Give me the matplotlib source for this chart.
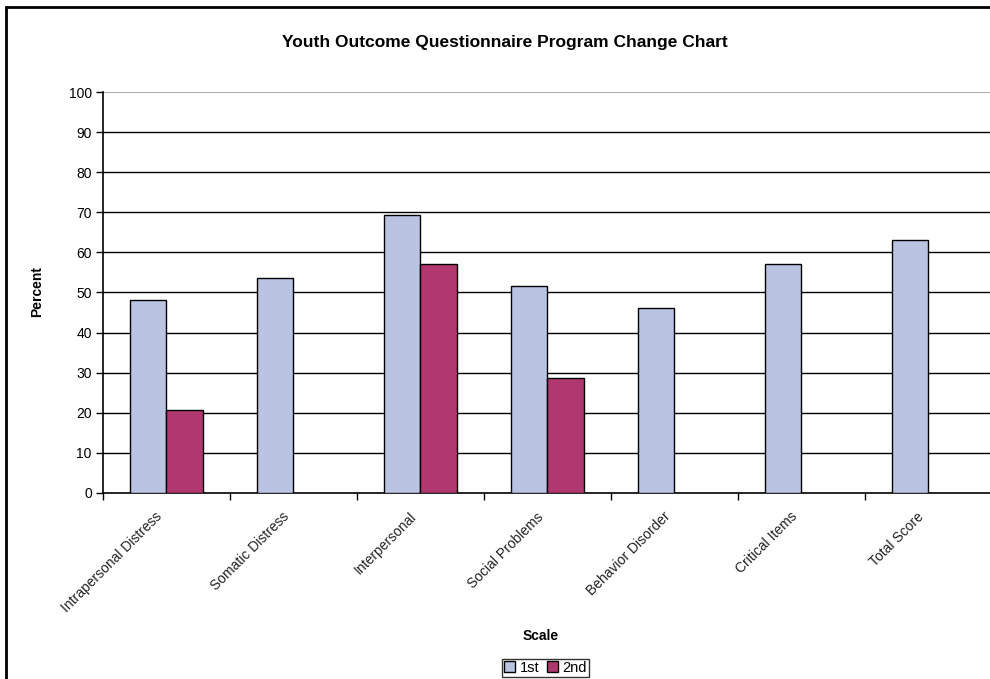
import matplotlib

matplotlib.use("Agg")
import matplotlib.pyplot as plt
import numpy as np
from matplotlib.patches import Rectangle

plt.rcParams["font.family"] = ["Liberation Sans", "DejaVu Sans"]

scales = [
    "Intrapersonal Distress",
    "Somatic Distress",
    "Interpersonal",
    "Social Problems",
    "Behavior Disorder",
    "Critical Items",
    "Total Score",
]
first = [48.1, 53.6, 69.3, 51.7, 46.2, 57.1, 63.0]
second = [20.8, None, 57.1, 28.7, None, None, None]
y_ticks = list(range(0, 101, 10))

fig = plt.figure(figsize=(9.9, 6.79), dpi=100, facecolor="white")
ax = fig.add_axes([0.104, 0.274, 0.898, 0.5905])

x = np.arange(len(scales))
width = 0.29
ax.bar(x - width / 2, first, width, color="#bac3e2", edgecolor="black", lw=1.0,
       label="1st", zorder=3)
x2 = [xi for xi, v in zip(x, second) if v is not None]
v2 = [v for v in second if v is not None]
ax.bar(np.array(x2) + width / 2, v2, width, color="#b0386e", edgecolor="black",
       lw=1.0, label="2nd", zorder=3)

ax.set_xlim(-0.5, len(scales) - 0.5)
ax.set_ylim(0, 100)
ax.set_yticks(y_ticks)
ax.set_yticklabels([str(t) for t in y_ticks], fontsize=10)
for t in y_ticks[1:-1]:
    ax.axhline(t, color="black", lw=1.0, zorder=1)
ax.axhline(100, color="#999999", lw=1.2, zorder=1)

ax.set_xticks(np.arange(len(scales) + 1) - 0.5)
ax.set_xticklabels([])
ax.set_xticks(x - 0.09, minor=True)
ax.set_xticklabels(scales, minor=True, rotation=45, ha="right",
                   rotation_mode="anchor", fontsize=10, color="#222222")
ax.tick_params(axis="x", which="minor", length=0, pad=12)
ax.tick_params(axis="x", which="major", length=5, width=1, direction="out")
ax.tick_params(axis="y", length=5, width=1, direction="out", pad=3)

for side in ("top", "right"):
    ax.spines[side].set_visible(False)
ax.spines["left"].set_linewidth(1.2)
ax.spines["bottom"].set_linewidth(1.2)

fig.text(0.51, 0.938, "Youth Outcome Questionnaire Program Change Chart",
         ha="center", va="center", fontsize=12.5, fontweight="bold")
fig.text(0.037, 0.57, "Percent", rotation=90, ha="center", va="center",
         fontsize=10, fontweight="bold")
fig.text(0.546, 0.064, "Scale", ha="center", va="center", fontsize=10,
         fontweight="bold")

leg = fig.legend(loc="upper center", bbox_to_anchor=(0.551, 0.03), ncol=2,
                 fontsize=10.5, frameon=True, fancybox=False, edgecolor="black",
                 handlelength=0.8, handleheight=0.8, handletextpad=0.3,
                 columnspacing=0.5, borderpad=0.15, borderaxespad=0)
leg.get_frame().set_linewidth(1.0)

# outer chart frame
fig.patches.append(Rectangle((6 / 990, -0.1), 1.1, 1.1 - 7 / 679,
                             transform=fig.transFigure, fill=False,
                             edgecolor="black", lw=2.0))

fig.savefig("out.png", dpi=100, facecolor="white")
